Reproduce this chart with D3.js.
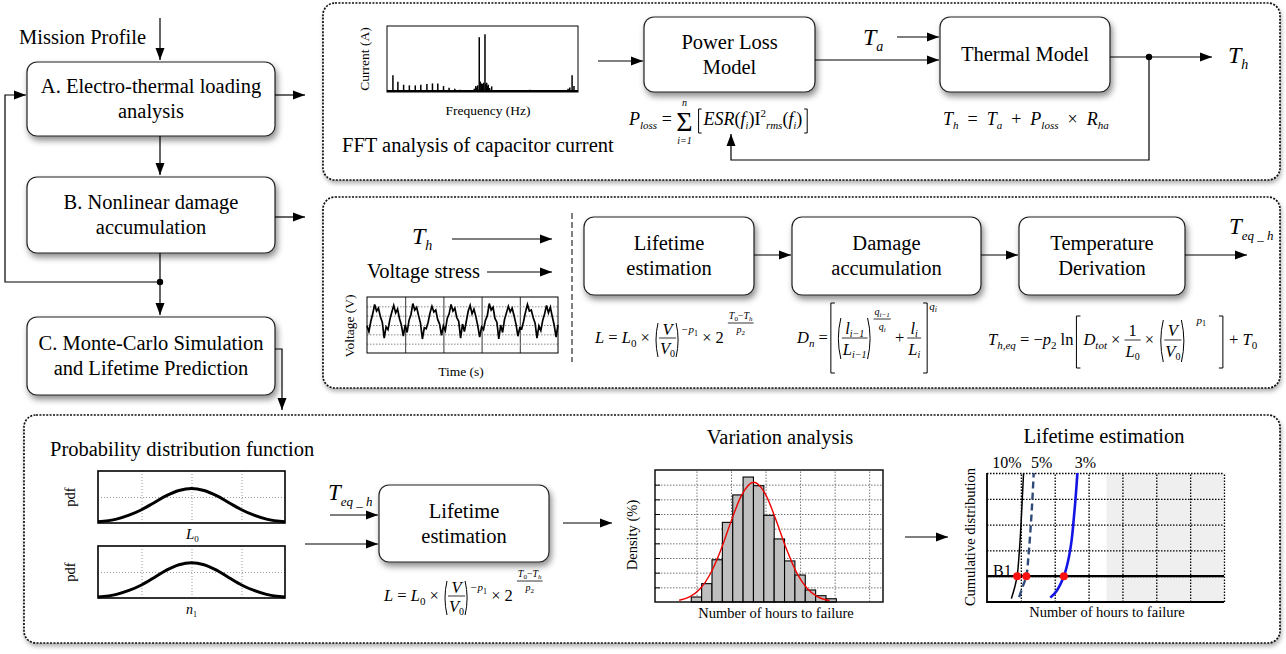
<!DOCTYPE html>
<html>
<head>
<meta charset="utf-8">
<title>Capacitor lifetime prediction flow</title>
<script src="https://cdnjs.cloudflare.com/ajax/libs/d3/7.8.5/d3.min.js"></script>
<style>
  body { margin: 0; background: #fff; }
  text { font-family: "Liberation Serif", "Times New Roman", serif; fill: #000; white-space: pre; }
</style>
</head>
<body>
<script>
// FFT spectrum of capacitor current (frequency in % of span, amplitude in %)
var fftFreq = [3.1, 5.7, 8.7, 11.7, 14.8, 17.7, 20.9, 23.8, 26.6, 29.6, 32.5, 35.5, 38.3, 41.4, 44.3,
               45.7, 46.5, 47, 47.5, 48.3, 48.8, 49.5, 50.1, 50.6, 51.3, 51.8, 52.2, 52.6, 53, 53.7, 54.8,
               57.4, 62.6, 74.8, 83.5, 92.2, 94.8, 95.7, 96.9, 97.9, 99.1];
var fftAmp  = [25.5, 15.5, 11, 10, 10, 11, 12, 13, 13, 9, 6.5, 5, 3.5, 3, 3,
               5, 9, 7, 10, 83, 16, 13, 12, 14, 87.5, 12, 14, 9, 11, 6, 8.5,
               2, 1, 3.5, 1, 3, 5, 7, 25.5, 9, 3];

// voltage stress waveform, 5 divisions, one sample every 0.05 division
var voltage = [2.9, 2.3, 3.4, 4.2, 5.2, 4.5, 4.8, 3.9, 3.3, 1.6,
               2.8, 2.5, 3.6, 4.4, 5.1, 4.3, 4.7, 3.7, 3.0, 1.8,
               3.0, 2.2, 3.5, 4.1, 5.3, 4.6, 4.9, 4.0, 3.2, 1.5,
               2.7, 2.6, 3.3, 4.3, 5.0, 4.4, 4.6, 3.6, 3.1, 1.9,
               2.9, 2.4, 3.7, 4.2, 5.2, 4.5, 4.8, 3.8, 3.4, 1.6,
               3.1, 2.3, 3.4, 4.5, 5.1, 4.2, 4.7, 3.9, 2.9, 1.7,
               2.8, 2.5, 3.5, 4.0, 5.3, 4.6, 4.9, 3.7, 3.3, 1.5,
               3.0, 2.2, 3.6, 4.3, 5.0, 4.4, 4.8, 4.0, 3.1, 1.8,
               2.7, 2.6, 3.4, 4.4, 5.2, 4.5, 4.6, 3.8, 3.2, 1.6,
               2.9, 2.4, 3.5, 4.2, 5.1, 4.3, 4.9, 3.9, 3.0, 1.7, 3.0];

// probability density of the two parameters
var pdfX  = [-3.74, -3, -2.5, -2, -1.5, -1, -0.5, 0, 0.5, 1, 1.5, 2, 2.5, 3, 3.74];
var pdfL0 = [0.05, 0.15, 0.30, 0.51, 0.78, 1.05, 1.25, 1.33, 1.25, 1.05, 0.78, 0.51, 0.30, 0.15, 0.05];
var pdfN1 = [0.04, 0.14, 0.29, 0.50, 0.78, 1.07, 1.28, 1.36, 1.28, 1.07, 0.78, 0.50, 0.29, 0.14, 0.04];

// histogram of hours to failure and the fitted density
var histEdges   = [10.5, 13.5, 16.5, 19.5, 22.5, 25.5, 28.5, 31.5, 34.5, 37.5, 40.5, 43.5, 46.5, 49.5, 52.5];
var histDensity = [0.34, 1.25, 2.88, 5.43, 7.30, 8.52, 7.93, 5.91, 4.30, 2.80, 1.84, 0.82, 0.43, 0.22];
var fitX = [7, 10, 13, 16, 19, 22, 25, 28.6, 32, 35, 38, 41, 44, 47, 50.5];
var fitY = [0.12, 0.35, 0.88, 1.91, 3.51, 5.48, 7.25, 8.16, 7.34, 5.61, 3.64, 2.00, 0.94, 0.37, 0.10];
var histGridX = [12, 22, 32, 42, 52, 62];
var histGridY = [1, 2, 3, 4, 5, 6, 7, 8];

// cumulative distributions for 10 %, 5 % and 3 % variation
var cdfNames = ["10%", "5%", "3%"];
var cdf10X = [0.72, 0.82, 0.89, 0.95, 1.0, 1.04, 1.08];
var cdf10Y = [0.13, 0.58, 1.0, 1.87, 2.9, 3.95, 5.0];
var cdf5X  = [0.95, 1.05, 1.16, 1.23, 1.29, 1.34, 1.38];
var cdf5Y  = [0.19, 0.58, 1.0, 1.87, 2.9, 3.96, 5.0];
var cdf3X  = [1.87, 2.05, 2.27, 2.4, 2.5, 2.56, 2.62, 2.67];
var cdf3Y  = [0.17, 0.42, 1.0, 1.62, 2.4, 3.18, 4.09, 5.0];
var b1Level = 1;
var b1Hours = [0.89, 1.16, 2.27];
var shadedFrom = 3.53;

// block labels
var flowLabels = [["A. Electro-thermal loading", "analysis"],
                  ["B. Nonlinear damage", "accumulation"],
                  ["C. Monte-Carlo Simulation", "and Lifetime Prediction"]];
var thermalLabels = [["Power Loss", "Model"], ["Thermal Model"]];
var damageLabels = [["Lifetime", "estimation"], ["Damage", "accumulation"], ["Temperature", "Derivation"]];
var mcLabels = [["Lifetime", "estimation"]];

var FS = 20.5;

var svg = d3.select("body")
            .append("svg")
            .attr("width", 1286)
            .attr("height", 654);

var defs = svg.append("defs");
defs.append("marker")
    .attr("id", "ah")
    .attr("viewBox", "0 0 12 10")
    .attr("refX", 12).attr("refY", 5)
    .attr("markerWidth", 12).attr("markerHeight", 10)
    .attr("markerUnits", "userSpaceOnUse")
    .attr("orient", "auto")
    .append("path").attr("d", "M0,0.5L12,5L0,9.5Z").attr("fill", "#000");

var sh = defs.append("filter").attr("id", "shadow")
    .attr("x", "-10%").attr("y", "-10%").attr("width", "125%").attr("height", "145%");
sh.append("feDropShadow").attr("dx", 2).attr("dy", 4).attr("stdDeviation", 3)
  .attr("flood-color", "#000").attr("flood-opacity", 0.45);
var sh2 = defs.append("filter").attr("id", "shadow2")
    .attr("x", "-2%").attr("y", "-5%").attr("width", "104%").attr("height", "115%");
sh2.append("feDropShadow").attr("dx", 1).attr("dy", 3).attr("stdDeviation", 2)
  .attr("flood-color", "#000").attr("flood-opacity", 0.3);

// helpers
function panel(x, y, w, h) {
    svg.append("rect")
       .attr("x", x).attr("y", y).attr("width", w).attr("height", h)
       .attr("rx", 12)
       .attr("fill", "#fff")
       .attr("stroke", "#111")
       .attr("stroke-width", 1.7)
       .attr("stroke-dasharray", "2,1.4")
       .attr("filter", "url(#shadow2)");
}

function block(x, y, w, h, lines) {
    svg.append("rect")
       .attr("x", x).attr("y", y).attr("width", w).attr("height", h)
       .attr("rx", 10)
       .attr("fill", "#fff")
       .attr("stroke", "#222")
       .attr("stroke-width", 1.2)
       .attr("filter", "url(#shadow)");
    var cy = y + h / 2 + 6.5 - (lines.length - 1) * 12.5;
    lines.forEach(function(l, i) {
        svg.append("text")
           .attr("x", x + w / 2).attr("y", cy + i * 25)
           .attr("text-anchor", "middle")
           .attr("font-size", FS)
           .text(l);
    });
}

function wire(d, arrow) {
    svg.append("path")
       .attr("d", d)
       .attr("fill", "none")
       .attr("stroke", "#000")
       .attr("stroke-width", 1.2)
       .attr("marker-end", arrow ? "url(#ah)" : null);
}

function dot(x, y) {
    svg.append("circle").attr("cx", x).attr("cy", y).attr("r", 3.2).attr("fill", "#000");
}

function label(x, y, str, size, opts) {
    opts = opts || {};
    var t = svg.append("text")
       .attr("x", x).attr("y", y)
       .attr("font-size", size)
       .attr("text-anchor", opts.anchor || "start")
       .attr("fill", opts.color || "#000")
       .text(str);
    if (opts.rot) t.attr("transform", "rotate(-90," + x + "," + y + ")");
    return t;
}

// small math layout: a row of runs, fractions, brackets and a sum sign
function mathRow(g, items, size) {
    var cx = 0;
    items.forEach(function(it) {
        if (typeof it === "string") it = {t: it};
        var s = it.s || size;
        cx += it.dx || 0;
        if (it.frac) {
            var ng = g.append("g"), dg = g.append("g");
            var wn = mathRow(ng, it.frac[0], s), wd = mathRow(dg, it.frac[1], s);
            var w = Math.max(wn, wd) + 2;
            ng.attr("transform", "translate(" + (cx + (w - wn) / 2) + "," + it.num + ")");
            dg.attr("transform", "translate(" + (cx + (w - wd) / 2) + "," + it.den + ")");
            g.append("line")
             .attr("x1", cx).attr("x2", cx + w)
             .attr("y1", it.bar).attr("y2", it.bar)
             .attr("stroke", "#000").attr("stroke-width", it.lw || 0.8);
            cx += w;
        } else if (it.br) {
            var bw = it.w || 5, a = it.top, b = it.bot, d;
            if (it.br === "[") d = "M" + (cx + bw) + "," + a + "H" + (cx + 1) + "V" + b + "H" + (cx + bw);
            if (it.br === "]") d = "M" + cx + "," + a + "H" + (cx + bw - 1) + "V" + b + "H" + cx;
            if (it.br === "(") d = "M" + (cx + bw) + "," + a + "Q" + cx + "," + ((a + b) / 2) + " " + (cx + bw) + "," + b;
            if (it.br === ")") d = "M" + cx + "," + a + "Q" + (cx + bw) + "," + ((a + b) / 2) + " " + cx + "," + b;
            g.append("path").attr("d", d).attr("fill", "none")
             .attr("stroke", "#000").attr("stroke-width", 1);
            cx += bw + 1;
        } else if (it.sum) {
            var st = g.append("text").attr("x", cx).attr("y", 6).attr("font-size", it.ss || 28).text("\u03A3");
            var sw = st.node().getComputedTextLength();
            g.append("text").attr("x", cx + sw / 2).attr("y", -19).attr("text-anchor", "middle")
             .attr("font-size", 10).attr("font-style", "italic").text(it.sum[0]);
            g.append("text").attr("x", cx + sw / 2).attr("y", 19).attr("text-anchor", "middle")
             .attr("font-size", 10).attr("font-style", "italic").text(it.sum[1]);
            cx += sw + 2;
        } else {
            var t = g.append("text")
                     .attr("x", cx).attr("y", it.y || 0)
                     .attr("font-size", s)
                     .attr("font-style", it.i ? "italic" : null)
                     .text(it.t);
            cx += t.node().getComputedTextLength();
        }
    });
    return cx;
}

function formula(x, y, items, size) {
    var g = svg.append("g").attr("transform", "translate(" + x + "," + y + ")");
    mathRow(g, items, size);
    return g;
}

// the lifetime model formula is used twice
var lifetimeFormula = [{t: "L", i: 1}, {t: " = "}, {t: "L", i: 1}, {t: "0", s: 11, y: 4}, {t: " \u00D7 "},
    {br: "(", top: -20, bot: 14, w: 4},
    {frac: [[{t: "V", i: 1}], [{t: "V", i: 1}, {t: "0", s: 10, y: 3}]], num: -8, den: 11, bar: -5},
    {br: ")", top: -20, bot: 14, w: 4}, {t: "\u2212p", i: 1, s: 11, y: -10}, {t: "1", s: 8, y: -7},
    {t: " \u00D7 2"},
    {frac: [[{t: "T", i: 1, s: 10}, {t: "0", s: 7, y: 2}, {t: "\u2212", s: 10}, {t: "T", i: 1, s: 10}, {t: "h", i: 1, s: 7, y: 2}],
            [{t: "p", i: 1, s: 10}, {t: "2", s: 7, y: 2}]], num: -24, den: -10, bar: -20, dx: 4}];

// panels
panel(323, 3, 957, 177);
panel(323, 197, 957, 191);
panel(24, 415, 1256, 228);

// left flow chart
label(19, 44, "Mission Profile", FS);
wire("M160,18V60", true);
block(27, 62, 248, 74, flowLabels[0]);
block(27, 177, 248, 76, flowLabels[1]);
block(27, 317, 248, 78, flowLabels[2]);
wire("M160,136V175", true);
wire("M160,253V315", true);
wire("M160,282H5V95H26", true);
dot(160, 282);
wire("M275,95H305", true);
wire("M275,217H305", true);
wire("M275,349H282V410", true);

// ---------- electro-thermal panel ----------
var fx = d3.scaleLinear().domain([0, 100]).range([387, 578]);
var fy = d3.scaleLinear().domain([0, 100]).range([92, 26]);
svg.append("rect").attr("x", 387).attr("y", 26).attr("width", 191).attr("height", 66)
   .attr("fill", "none").attr("stroke", "#000").attr("stroke-width", 1);
svg.selectAll(".fft")
   .data(fftFreq)
   .enter()
   .append("line")
   .attr("class", "fft")
   .attr("x1", function(d) { return fx(d); })
   .attr("x2", function(d) { return fx(d); })
   .attr("y1", fy(0))
   .attr("y2", function(d, i) { return fy(fftAmp[i]); })
   .attr("stroke", "#000")
   .attr("stroke-width", 1.5);
svg.append("line").attr("x1", 387).attr("x2", 578).attr("y1", 91).attr("y2", 91)
   .attr("stroke", "#000").attr("stroke-width", 2);
label(369, 59, "Current (A)", 13.5, {anchor: "middle", rot: true});
label(488, 115, "Frequency (Hz)", 13.5, {anchor: "middle"});
label(342, 152, "FFT analysis of capacitor current", FS);

wire("M598,61H643", true);
block(644, 17, 171, 75, thermalLabels[0]);
block(940, 17, 170, 75, thermalLabels[1]);
wire("M815,60H939", true);
wire("M897,37H939", true);
formula(863, 45, [{t: "T", i: 1}, {t: "a", i: 1, s: 14, y: 6}], 24);
wire("M1110,57H1212", true);
dot(1149, 57);
formula(1228, 63, [{t: "T", i: 1}, {t: "h", i: 1, s: 14, y: 6}], 24);
wire("M1149,57V160H731V134", true);

formula(629, 125, [{t: "P", i: 1}, {t: "loss", i: 1, s: 11, y: 4}, {t: " = "}, {sum: ["n", "i=1"]},
    {br: "[", top: -16, bot: 8, w: 4, dx: 3}, {t: "ESR", i: 1, dx: 1}, {t: "("}, {t: "f", i: 1},
    {t: "i", i: 1, s: 10, y: 4}, {t: ")"}, {t: "I"}, {t: "2", s: 11, y: -8}, {t: "rms", i: 1, s: 11, y: 4},
    {t: "("}, {t: "f", i: 1}, {t: "i", i: 1, s: 10, y: 4}, {t: ")"}, {br: "]", top: -16, bot: 8, w: 4, dx: 2}], 18);
formula(943, 125, [{t: "T", i: 1}, {t: "h", i: 1, s: 11, y: 4}, {t: "  =  "}, {t: "T", i: 1},
    {t: "a", i: 1, s: 11, y: 4}, {t: "  +  "}, {t: "P", i: 1}, {t: "loss", i: 1, s: 11, y: 4},
    {t: "  \u00D7  "}, {t: "R", i: 1}, {t: "ha", i: 1, s: 11, y: 4}], 18);

// ---------- damage panel ----------
formula(412, 244, [{t: "T", i: 1}, {t: "h", i: 1, s: 14, y: 6}], 24);
wire("M452,239H552", true);
label(367, 278, "Voltage stress", FS);
wire("M487,272H552", true);

var vx = d3.scaleLinear().domain([0, 5]).range([367, 558]);
var vy = d3.scaleLinear().domain([0, 6]).range([353, 297]);
svg.append("g")
   .attr("transform", "translate(0,353)")
   .call(d3.axisBottom(vx).tickValues([1, 2, 3, 4]).tickSize(-56).tickFormat(""))
   .call(function(g) { g.select(".domain").remove(); g.selectAll("line").attr("stroke", "#000").attr("stroke-width", 0.8); });
svg.append("g")
   .attr("transform", "translate(367,0)")
   .call(d3.axisLeft(vy).tickValues([1, 2, 3, 4, 5]).tickSize(-191).tickFormat(""))
   .call(function(g) { g.select(".domain").remove(); g.selectAll("line").attr("stroke", "#888").attr("stroke-dasharray", "1.5,1.5"); });
svg.append("path")
   .datum(voltage)
   .attr("d", d3.line().x(function(d, i) { return vx(i * 0.05); }).y(function(d) { return vy(d); }))
   .attr("fill", "none").attr("stroke", "#000").attr("stroke-width", 1.7);
svg.append("rect").attr("x", 367).attr("y", 297).attr("width", 191).attr("height", 56)
   .attr("fill", "none").attr("stroke", "#000").attr("stroke-width", 1);
label(354, 326, "Voltage (V)", 13.5, {anchor: "middle", rot: true});
label(461, 376, "Time (s)", 13.5, {anchor: "middle"});

svg.append("path").attr("d", "M572,213V362").attr("stroke", "#000").attr("stroke-width", 1)
   .attr("stroke-dasharray", "6,3");

block(584, 217, 170, 78, damageLabels[0]);
block(792, 217, 189, 78, damageLabels[1]);
block(1019, 217, 166, 78, damageLabels[2]);
wire("M754,255H791", true);
wire("M981,255H1018", true);
wire("M1185,255H1247", true);
formula(1229, 234, [{t: "T", i: 1}, {t: "eq _ h", i: 1, s: 13, y: 6}], 23);

formula(595, 343, lifetimeFormula, 16.5);

formula(797, 343, [{t: "D", i: 1}, {t: "n", i: 1, s: 11, y: 4}, {t: " ="}, {br: "[", top: -40, bot: 30, w: 5, dx: 2},
    {br: "(", top: -25, bot: 16, w: 5},
    {frac: [[{t: "l", i: 1}, {t: "i\u22121", i: 1, s: 10, y: 3}], [{t: "L", i: 1}, {t: "i\u22121", i: 1, s: 10, y: 3}]], num: -9, den: 12, bar: -5},
    {br: ")", top: -25, bot: 16, w: 5},
    {frac: [[{t: "q", i: 1, s: 10}, {t: "i\u22121", i: 1, s: 7, y: 2}], [{t: "q", i: 1, s: 10}, {t: "i", i: 1, s: 7, y: 2}]], num: -28, den: -13, bar: -24},
    {t: " +"},
    {frac: [[{t: "l", i: 1}, {t: "i", i: 1, s: 10, y: 3}], [{t: "L", i: 1}, {t: "i", i: 1, s: 10, y: 3}]], num: -9, den: 12, bar: -5, dx: 3},
    {br: "]", top: -40, bot: 30, w: 5, dx: 2}, {t: "q", i: 1, s: 11, y: -33}, {t: "i", i: 1, s: 8, y: -31}], 16.5);

formula(988, 345, [{t: "T", i: 1}, {t: "h,eq", i: 1, s: 11, y: 4}, {t: " = \u2212"}, {t: "p", i: 1},
    {t: "2", s: 11, y: 4}, {t: " ln"}, {br: "[", top: -29, bot: 23, w: 5, dx: 2},
    {t: "D", i: 1, dx: 2}, {t: "tot", i: 1, s: 11, y: 4}, {t: " \u00D7 "},
    {frac: [["1"], [{t: "L", i: 1}, {t: "0", s: 10, y: 3}]], num: -9, den: 12, bar: -5}, {t: " \u00D7 "},
    {br: "(", top: -25, bot: 17, w: 5},
    {frac: [[{t: "V", i: 1}], [{t: "V", i: 1}, {t: "0", s: 10, y: 3}]], num: -9, den: 12, bar: -5},
    {br: ")", top: -25, bot: 17, w: 5},
    {t: "p", i: 1, s: 11, y: -21, dx: 9}, {t: "1", s: 8, y: -19},
    {br: "]", top: -29, bot: 23, w: 5, dx: 13}, {t: " + "}, {t: "T", i: 1}, {t: "0", s: 11, y: 4}], 16.5);

// ---------- Monte-Carlo panel ----------
label(50, 456, "Probability distribution function", FS);

var px = d3.scaleLinear().domain([-3.74, 3.74]).range([98, 285]);
function pdfPlot(top, values) {
    var py = d3.scaleLinear().domain([0, 2]).range([top + 52, top]);
    svg.append("g")
       .attr("transform", "translate(0," + (top + 52) + ")")
       .call(d3.axisBottom(px).tickValues([-2, 0, 2]).tickSize(-52).tickFormat(""))
       .call(function(g) { g.select(".domain").remove(); g.selectAll("line").attr("stroke", "#999").attr("stroke-dasharray", "1,2"); });
    svg.append("g")
       .attr("transform", "translate(98,0)")
       .call(d3.axisLeft(py).tickValues([1]).tickSize(-187).tickFormat(""))
       .call(function(g) { g.select(".domain").remove(); g.selectAll("line").attr("stroke", "#999").attr("stroke-dasharray", "1,2"); });
    svg.append("path")
       .datum(values)
       .attr("d", d3.line().curve(d3.curveMonotoneX)
                   .x(function(d, i) { return px(pdfX[i]); })
                   .y(function(d) { return py(d); }))
       .attr("fill", "none").attr("stroke", "#000").attr("stroke-width", 3);
    svg.append("rect").attr("x", 98).attr("y", top).attr("width", 187).attr("height", 52)
       .attr("fill", "none").attr("stroke", "#000").attr("stroke-width", 1.6);
    label(75, top + 26, "pdf", 14.5, {anchor: "middle", rot: true});
}
pdfPlot(471, pdfL0);
pdfPlot(546, pdfN1);
formula(186, 539, [{t: "L", i: 1}, {t: "0", s: 9, y: 3}], 15);
formula(186, 614, [{t: "n", i: 1}, {t: "1", s: 8, y: 3}], 14);

formula(328, 500, [{t: "T", i: 1}, {t: "eq _ h", i: 1, s: 13, y: 6}], 23);
wire("M330,515H378", true);
wire("M305,544H378", true);
block(379, 485, 170, 77, mcLabels[0]);
formula(384, 601, lifetimeFormula, 16.5);
wire("M563,523H612", true);

// histogram
label(780, 444, "Variation analysis", FS, {anchor: "middle"});
var hx = d3.scaleLinear().domain([0, 66]).range([655, 883]);
var hy = d3.scaleLinear().domain([0, 9]).range([602, 470]);
svg.append("g")
   .attr("transform", "translate(0,602)")
   .call(d3.axisBottom(hx).tickValues(histGridX).tickSize(-132).tickFormat(""))
   .call(function(g) { g.select(".domain").remove(); g.selectAll("line").attr("stroke", "#777").attr("stroke-dasharray", "1.5,1.5"); });
svg.append("g")
   .attr("transform", "translate(655,0)")
   .call(d3.axisLeft(hy).tickValues(histGridY).tickSize(-228).tickFormat(""))
   .call(function(g) { g.select(".domain").remove(); g.selectAll("line").attr("stroke", "#777").attr("stroke-dasharray", "1.5,1.5"); });
svg.append("g")
   .attr("transform", "translate(655,0)")
   .call(d3.axisRight(hy).tickValues(histGridY).tickSize(5).tickFormat(""))
   .call(function(g) { g.select(".domain").remove(); g.selectAll("line").attr("stroke", "#000"); });
svg.selectAll(".bar")
   .data(histDensity)
   .enter()
   .append("rect")
   .attr("class", "bar")
   .attr("x", function(d, i) { return hx(histEdges[i]); })
   .attr("width", function(d, i) { return hx(histEdges[i + 1]) - hx(histEdges[i]); })
   .attr("y", function(d) { return hy(d); })
   .attr("height", function(d) { return hy(0) - hy(d); })
   .attr("fill", "#bfbfbf")
   .attr("stroke", "#000")
   .attr("stroke-width", 1.1);
svg.append("path")
   .datum(fitY)
   .attr("d", d3.line().curve(d3.curveMonotoneX)
               .x(function(d, i) { return hx(fitX[i]); })
               .y(function(d) { return hy(d); }))
   .attr("fill", "none").attr("stroke", "#e00").attr("stroke-width", 1.4);
svg.append("rect").attr("x", 655).attr("y", 470).attr("width", 228).attr("height", 132)
   .attr("fill", "none").attr("stroke", "#000").attr("stroke-width", 1.4);
label(637, 535, "Density (%)", 14.5, {anchor: "middle", rot: true});
label(776, 618, "Number of hours to failure", 14.5, {anchor: "middle"});
wire("M905,537H948", true);

// lifetime estimation plot
label(1104, 443, "Lifetime estimation", FS, {anchor: "middle"});
var lx = d3.scaleLinear().domain([0, 7]).range([987, 1224]);
var ly = d3.scaleLinear().domain([0, 5]).range([602, 473]);
svg.append("rect").attr("x", lx(shadedFrom)).attr("y", ly(5))
   .attr("width", lx(7) - lx(shadedFrom)).attr("height", ly(0) - ly(5))
   .attr("fill", "#efefef");
svg.append("g")
   .attr("transform", "translate(0,602)")
   .call(d3.axisBottom(lx).tickValues([1, 2, 3, 4, 5, 6, 7]).tickSize(-129).tickFormat(""))
   .call(function(g) { g.select(".domain").remove(); g.selectAll("line").attr("stroke", "#000").attr("stroke-width", 1.3).attr("stroke-dasharray", "1.5,1.5"); });
svg.append("g")
   .attr("transform", "translate(987,0)")
   .call(d3.axisLeft(ly).tickValues([1, 2, 3, 4, 5]).tickSize(-237).tickFormat(""))
   .call(function(g) { g.select(".domain").remove(); g.selectAll("line").attr("stroke", "#000").attr("stroke-width", 1.3).attr("stroke-dasharray", "1.5,1.5"); });
svg.append("path").attr("d", "M987,473V602H1224").attr("fill", "none").attr("stroke", "#000").attr("stroke-width", 1.8);
svg.append("line").attr("x1", lx(0)).attr("x2", lx(7)).attr("y1", ly(b1Level)).attr("y2", ly(b1Level))
   .attr("stroke", "#000").attr("stroke-width", 2.2);

var cdfLine = d3.line().curve(d3.curveCatmullRom)
    .x(function(d) { return lx(d[0]); })
    .y(function(d) { return ly(d[1]); });
svg.append("path").datum(d3.zip(cdf10X, cdf10Y)).attr("d", cdfLine)
   .attr("fill", "none").attr("stroke", "#000").attr("stroke-width", 1.5);
svg.append("path").datum(d3.zip(cdf5X, cdf5Y)).attr("d", cdfLine)
   .attr("fill", "none").attr("stroke", "#2f4a78").attr("stroke-width", 2.4).attr("stroke-dasharray", "7,4");
svg.append("path").datum(d3.zip(cdf3X, cdf3Y)).attr("d", cdfLine)
   .attr("fill", "none").attr("stroke", "#1414e6").attr("stroke-width", 2.6);
svg.selectAll(".b1")
   .data(b1Hours)
   .enter()
   .append("circle")
   .attr("class", "b1")
   .attr("cx", function(d) { return lx(d); })
   .attr("cy", ly(b1Level))
   .attr("r", 4)
   .attr("fill", "#ff1010");
label(993, 576, "B1", 16);
var cdfColors = ["#000", "#4a86c8", "#1f1fe6"];
var cdfTops = [cdf10X[cdf10X.length - 1], cdf5X[cdf5X.length - 1], cdf3X[cdf3X.length - 1]];
cdfNames.forEach(function(n, i) {
    label(lx(cdfTops[i]) + (i === 0 ? -2 : 8), 468, n, 16, {anchor: i === 0 ? "end" : "middle", color: cdfColors[i]});
});
label(975, 537, "Cumulative distribution", 14.5, {anchor: "middle", rot: true});
label(1107, 617, "Number of hours to failure", 14.5, {anchor: "middle"});
</script>
</body>
</html>
